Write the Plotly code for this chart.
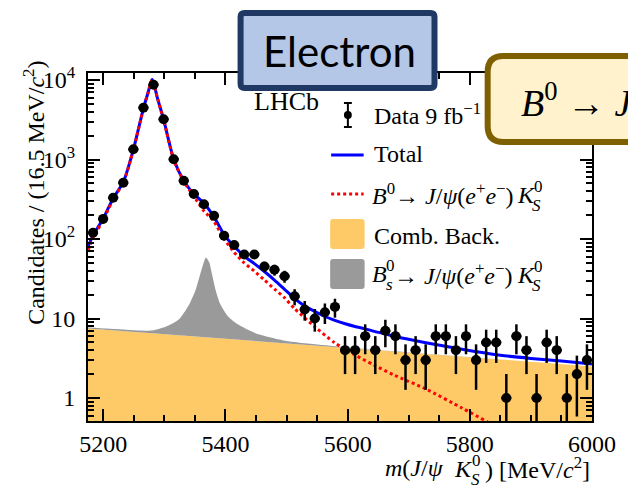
import plotly.graph_objects as go

# ---------------- data ----------------
BIN_WIDTH = 16.5
MASS_LO, MASS_HI = 5175.0, 6000.0

# candidates per 16.5 MeV/c^2 bin, starting at 5175 MeV/c^2
counts = [120, 179, 331, 511, 1343, 4486, 8730, 3205, 1006, 541,
          368, 273, 196, 110, 84, 64, 64, 45, 41, 34,
          19, 13, 10, 12, 14, 4, 4, 6, 4, 7,
          6, 3, 4, 3, 6, 6, 4, 6, 3, 5,
          5, 1, 6, 4, 1, 5, 4, 1, 2, 3]

# fit components, sampled along the mass axis
total_m = [5175, 5183.25, 5199.75, 5216.25, 5232.75, 5249.25, 5265.75, 5273, 5277,
           5280, 5283, 5288, 5298.75, 5315.25, 5331.75, 5348.25, 5364.75, 5381.25,
           5397.75, 5414.25, 5430.75, 5447.25, 5463.75, 5480.25, 5496.75, 5513.25,
           5529.75, 5546.25, 5562.75, 5579, 5596, 5612, 5629, 5645, 5662, 5678,
           5728, 5787, 5850, 5900, 5950, 6000]
total_y = [80, 111, 180, 326, 518, 1328, 4410, 6810, 8810,
           10110, 8910, 6180, 3190, 1005, 540, 368, 282, 190,
           113, 81, 61, 49, 39, 30.5, 23.3, 17.8,
           14.4, 12.3, 10.6, 9.5, 8.6, 7.95, 7.4, 6.85, 6.4, 5.95,
           4.97, 4.1, 3.45, 3.15, 2.92, 2.68]

signal_m = [5175, 5183.25, 5199.75, 5216.25, 5232.75, 5249.25, 5265.75, 5273, 5277,
            5280, 5283, 5288, 5298.75, 5315.25, 5331.75, 5348.25, 5364.75, 5381.25,
            5397.75, 5414.25, 5430.75, 5447.25, 5463.75, 5480.25, 5496.75, 5513.25,
            5546, 5578, 5610, 5643, 5675, 5728, 5787, 5829, 5880]
signal_y = [72, 103, 172, 318, 510, 1320, 4400, 6800, 8800,
            10100, 8900, 6170, 3180, 995, 530, 345, 225, 166,
            100, 68, 50, 39.5, 30.5, 23.5, 18.2, 13.3,
            7.9, 5.0, 3.55, 2.6, 1.96, 1.3, 0.75, 0.5, 0.3]

comb_m = [5175, 6000]
comb_y = [7.5, 2.5]

# upper edge of the B_s component, stacked on the combinatorial background
bs_top_m = [5175, 5230, 5280, 5305, 5324, 5340, 5351, 5359, 5364.4, 5368,
            5373.6, 5377.8, 5384, 5391, 5404.7, 5420, 5450, 5500, 5560, 5620, 6000]
bs_top_y = [7.7, 7.3, 7.07, 8.05, 9.8, 14.7, 22.7, 36.8, 50.8, 58.7,
            50.8, 36.8, 22.7, 15.5, 10.5, 8.45, 6.5, 5.23, 4.64, 4.2, 2.5]

x_ticks = [5200, 5400, 5600, 5800, 6000]
y_ticks = [1, 10, 100, 1000, 10000]
y_tick_text = ["1", "10", "10<sup>2</sup>", "10<sup>3</sup>", "10<sup>4</sup>"]

bin_centres = [MASS_LO + BIN_WIDTH * (i + 0.5) for i in range(len(counts))]
count_err = [c ** 0.5 for c in counts]

# ---------------- styling ----------------
SERIF = "Liberation Serif"
BLUE = "#0000ff"
RED = "#ff0000"
ORANGE = "#fdca67"
GREY = "#9a9a9a"

L, T, W, H = 88, 73, 512, 348          # plot area in pixels


def px(x):
    return (x - L) / W


def py(y):
    return (T + H - y) / H


fig = go.Figure()

# baseline below the visible range, used as the floor of the background fill
fig.add_trace(go.Scatter(x=[MASS_LO, MASS_HI], y=[0.1, 0.1], mode="lines",
                         line=dict(width=0, color=ORANGE), hoverinfo="skip",
                         showlegend=False))
fig.add_trace(go.Scatter(x=comb_m, y=comb_y, mode="lines", fill="tonexty",
                         fillcolor=ORANGE, line=dict(width=0, color=ORANGE),
                         name="Comb. Back.", showlegend=False))
fig.add_trace(go.Scatter(x=bs_top_m, y=bs_top_y, mode="lines", fill="tonexty",
                         fillcolor=GREY, line=dict(width=0, color=GREY, shape="spline",
                                                   smoothing=0.6),
                         name="Bs", showlegend=False))
fig.add_trace(go.Scatter(x=total_m, y=total_y, mode="lines",
                         line=dict(color=BLUE, width=3, shape="spline", smoothing=0.6),
                         name="Total", showlegend=False))
fig.add_trace(go.Scatter(x=signal_m, y=signal_y, mode="lines",
                         line=dict(color=RED, width=3, dash="dot", shape="spline",
                                   smoothing=0.6),
                         name="Signal", showlegend=False))
fig.add_trace(go.Scatter(x=bin_centres, y=counts, mode="markers",
                         marker=dict(color="black", size=10),
                         error_y=dict(type="data", array=count_err, color="black",
                                      thickness=2.5, width=0),
                         error_x=dict(type="constant", value=BIN_WIDTH / 2, color="black",
                                      thickness=2.5, width=0),
                         name="Data", showlegend=False))

axis_common = dict(showline=True, linewidth=2, linecolor="black", mirror="allticks",
                   ticks="inside", ticklen=12, tickwidth=1.5, tickcolor="black",
                   showgrid=False, zeroline=False,
                   tickfont=dict(family=SERIF, size=24, color="black"))

minor_y = [v * 10 ** d for d in range(-1, 5) for v in range(2, 10)]
minor_y = [v for v in minor_y if 0.5 < v < 12500]

fig.update_xaxes(range=[MASS_LO, MASS_HI], tickmode="array", tickvals=x_ticks,
                 minor=dict(dtick=50, ticks="inside", ticklen=6, tickwidth=1.5,
                            tickcolor="black", showgrid=False),
                 ticklabelstandoff=0, **axis_common)
fig.update_yaxes(type="log", range=[-0.289, 4.088], tickmode="array", tickvals=y_ticks,
                 ticktext=y_tick_text,
                 minor=dict(tickmode="array", tickvals=minor_y, ticks="inside", ticklen=6,
                            tickwidth=1.5, tickcolor="black", showgrid=False),
                 ticklabelstandoff=6, **axis_common)

shapes = []
annotations = []


def text(x, y, s, size=24, anchor="left", family=SERIF, **kw):
    annotations.append(dict(x=px(x), y=py(y), xref="paper", yref="paper", text=s,
                            showarrow=False, xanchor=anchor, yanchor="middle",
                            font=dict(family=family, size=size, color="black"), **kw))


def rounded_rect(x0, y0, x1, y1, r):
    rx, ry = r / W, r / H
    a, b, c, d = px(x0), py(y1), px(x1), py(y0)   # left, bottom, right, top (paper)
    return (f"M {a + rx},{b} L {c - rx},{b} Q {c},{b} {c},{b + ry} "
            f"L {c},{d - ry} Q {c},{d} {c - rx},{d} L {a + rx},{d} "
            f"Q {a},{d} {a},{d - ry} L {a},{b + ry} Q {a},{b} {a + rx},{b} Z")


# ---------------- legend ----------------
# data entry: error bar with marker
shapes.append(dict(type="line", xref="paper", yref="paper", x0=px(352), x1=px(352),
                   y0=py(103), y1=py(127), line=dict(color="black", width=2)))
for yy in (103, 127):
    shapes.append(dict(type="line", xref="paper", yref="paper", x0=px(348), x1=px(356),
                       y0=py(yy), y1=py(yy), line=dict(color="black", width=2)))
shapes.append(dict(type="circle", xref="paper", yref="paper", x0=px(348), x1=px(356),
                   y0=py(111), y1=py(119), fillcolor="black", line=dict(width=0)))
shapes.append(dict(type="line", xref="paper", yref="paper", x0=px(335), x1=px(368),
                   y0=py(155), y1=py(155), line=dict(color=BLUE, width=3)))
shapes.append(dict(type="line", xref="paper", yref="paper", x0=px(335), x1=px(368),
                   y0=py(194), y1=py(194), line=dict(color=RED, width=3, dash="dot")))
shapes.append(dict(type="path", xref="paper", yref="paper",
                   path=rounded_rect(334, 219, 369, 249, 3), fillcolor=ORANGE,
                   line=dict(width=0)))
shapes.append(dict(type="path", xref="paper", yref="paper",
                   path=rounded_rect(334, 259, 369, 289, 3), fillcolor=GREY,
                   line=dict(width=0)))

text(376, 114, "Data 9 fb<sup>\u22121</sup>")
text(376, 154, "Total")
text(374, 194, "<i>B</i><sup>0</sup>\u2192 <i>J</i>/<i>\u03c8</i>(<i>e</i><sup>+</sup>"
               "<i>e</i><sup>\u2212</sup>)")
text(522, 195, "<i>K</i>")
text(539, 186, "0", size=17)
text(537, 205, "<i>S</i>", size=17)
text(376, 236, "Comb. Back.")
text(374, 274, "<i>B</i>")
text(389, 265, "0", size=17)
text(389, 284, "<i>s</i>", size=17)
text(397, 274, "\u2192 <i>J</i>/<i>\u03c8</i>(<i>e</i><sup>+</sup><i>e</i><sup>\u2212</sup>)")
text(522, 275, "<i>K</i>")
text(539, 266, "0", size=17)
text(537, 285, "<i>S</i>", size=17)

# experiment label
text(290, 101, "LHCb", size=26, anchor="center")

# ---------------- axis titles ----------------
annotations.append(dict(x=px(33), y=py(193), xref="paper", yref="paper",
                        text="Candidates / (16.5 MeV/<i>c</i><sup>2</sup>)",
                        textangle=-90, showarrow=False, xanchor="center", yanchor="middle",
                        font=dict(family=SERIF, size=24, color="black")))
text(452, 468, "<i>m</i>(<i>J</i>/<i>\u03c8</i>", anchor="right")
text(458, 469, "<i>K</i>")
text(476, 460, "0", size=17)
text(475, 479, "<i>S</i>", size=17)
text(600, 468, ") [MeV/<i>c</i><sup>2</sup>]", anchor="right")

# ---------------- callout boxes ----------------
shapes.append(dict(type="path", xref="paper", yref="paper", layer="above",
                   path=rounded_rect(243, 13, 440, 88, 4), fillcolor="#b4c7e7",
                   line=dict(color="#203864", width=6)))
text(343, 51, "Electron", size=42, anchor="center", family="Lato")

shapes.append(dict(type="path", xref="paper", yref="paper", layer="above",
                   path=rounded_rect(494, 56, 680, 142, 16), fillcolor="#fff2cc",
                   line=dict(color="#7f6000", width=6)))
text(526, 100, "<i>B</i><sup>0</sup> \u2192 <i>J</i>/<i>\u03c8</i> <i>K</i><sup>0</sup>",
     size=38)

fig.update_layout(width=628, height=491, margin=dict(l=L, r=628 - L - W, t=T, b=491 - T - H),
                  paper_bgcolor="white", plot_bgcolor="white", showlegend=False,
                  shapes=shapes, annotations=annotations)

fig.write_html("out.html")
